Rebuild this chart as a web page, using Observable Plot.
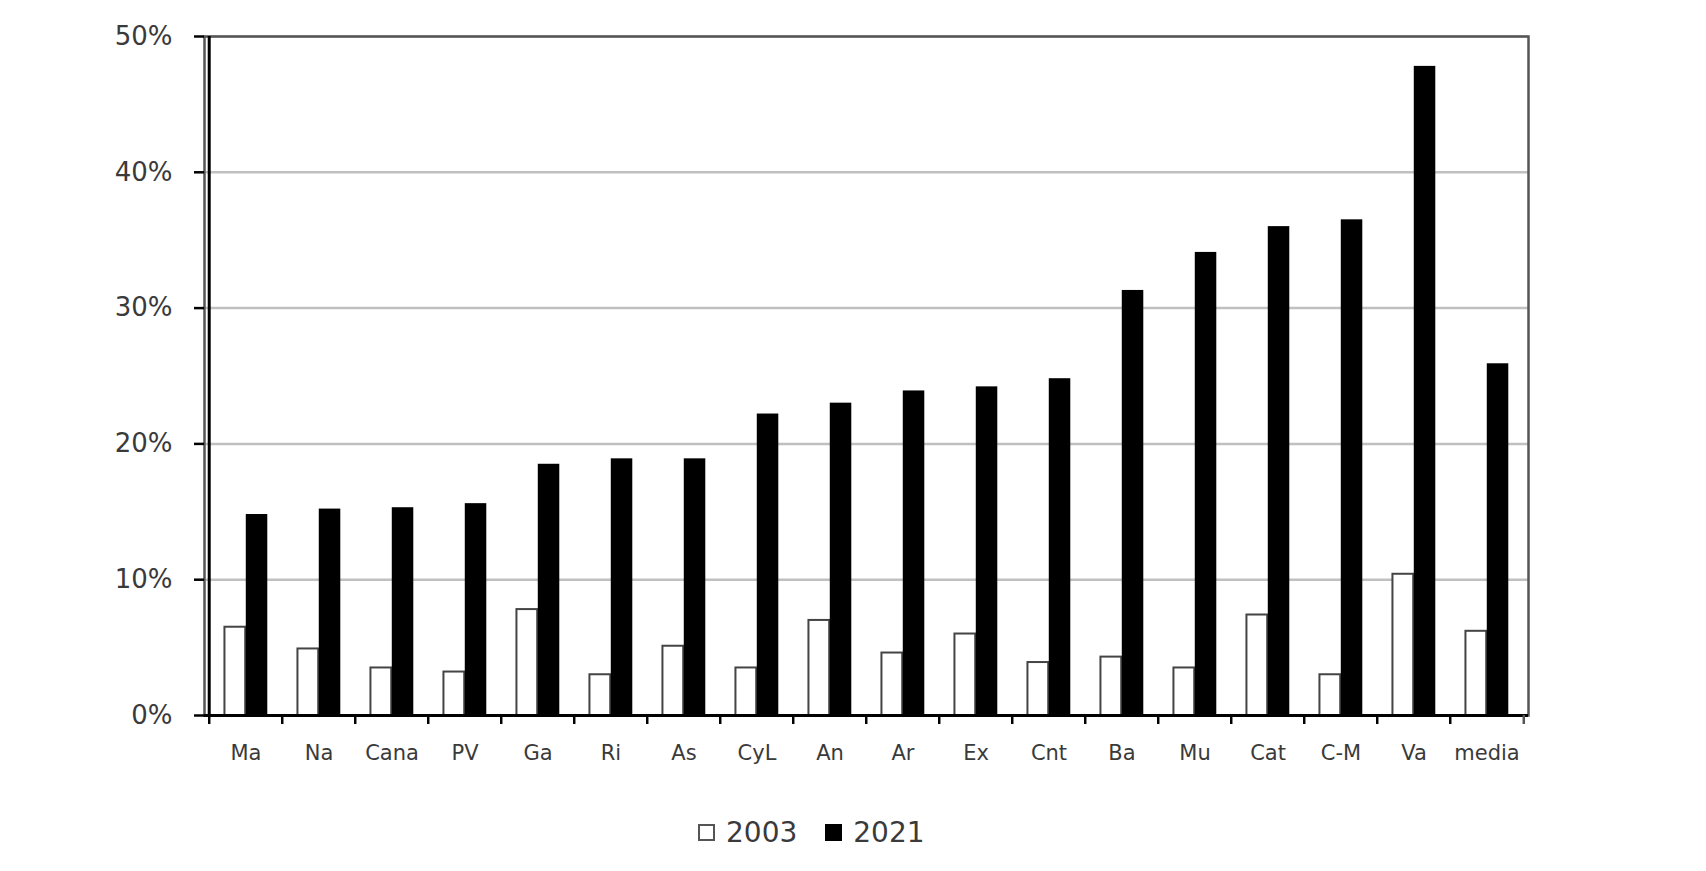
<!DOCTYPE html>
<html>
<head>
<meta charset="utf-8">
<script src="https://cdn.jsdelivr.net/npm/d3@7"></script>
<script src="https://cdn.jsdelivr.net/npm/@observablehq/plot@0.6"></script>
<style>
  html, body { margin: 0; padding: 0; background: #fff; }
  #chart { width: 1706px; }
  .legend { display: flex; align-items: center; font-family: "DejaVu Sans", sans-serif; font-size: 28px; color: #3a3a3a; padding-left: 698px; padding-top: 26px; }
  .legend .sw { width: 17px; height: 17px; display: inline-block; margin-right: 11px; }
  .legend .item { display: flex; align-items: center; margin-right: 28px; }
</style>
</head>
<body>
<div id="chart"></div>
<script>
const regions = ["Ma","Na","Cana","PV","Ga","Ri","As","CyL","An","Ar","Ex","Cnt","Ba","Mu","Cat","C-M","Va","media"];
const v2003 = [6.5, 4.9, 3.5, 3.2, 7.8, 3.0, 5.1, 3.5, 7.0, 4.6, 6.0, 3.9, 4.3, 3.5, 7.4, 3.0, 10.4, 6.2];
const v2021 = [14.8, 15.2, 15.3, 15.6, 18.5, 18.9, 18.9, 22.2, 23.0, 23.9, 24.2, 24.8, 31.3, 34.1, 36.0, 36.5, 47.8, 25.9];
const yTicks = [0, 10, 20, 30, 40, 50];
const seriesNames = ["2003", "2021"];

const data = regions.map((r, i) => ({region: r, a: v2003[i], b: v2021[i]}));

const W = 1706, H = 790;
const mL = 204, mR = 178, mT = 36, mB = 75;
const bw = (W - mL - mR) / regions.length;
const txt = "#3a3a3a";

const plot = Plot.plot({
  width: W, height: H,
  marginLeft: mL, marginRight: mR, marginTop: mT, marginBottom: mB,
  style: {fontFamily: "DejaVu Sans, sans-serif", background: "#fff", color: txt},
  x: {domain: regions, padding: 0, axis: null},
  y: {domain: [0, 50], axis: null},
  marks: [
    Plot.gridY(yTicks, {stroke: "#c0c0c0", strokeOpacity: 1, strokeWidth: 2.5}),
    Plot.frame({stroke: "#555", strokeWidth: 2.5}),
    Plot.barY(data, {x: "region", y: "a", fill: "white", stroke: "#444", strokeWidth: 2,
      insetLeft: 0.21 * bw, insetRight: 0.5 * bw}),
    Plot.barY(data, {x: "region", y: "b", fill: "black",
      insetLeft: 0.5 * bw, insetRight: 0.2 * bw}),
    Plot.ruleY([0], {stroke: "black", strokeWidth: 3}),
    Plot.ruleX([regions[0]], {dx: -bw / 2, stroke: "black", strokeWidth: 3}),
    Plot.ruleX(regions, {y1: 0, y2: 0, dx: -bw / 2, insetBottom: -9, stroke: "black", strokeWidth: 2.5}),
    Plot.ruleX([regions[regions.length - 1]], {y1: 0, y2: 0, dx: bw / 2, insetBottom: -9, stroke: "#555", strokeWidth: 2.5}),
    Plot.axisY(yTicks, {tickFormat: d => d + "%", tickSize: 10, tickPadding: 22, stroke: "black", strokeWidth: 2.5, fontSize: 26, fill: txt, label: null}),
    Plot.axisX(regions, {tickSize: 0, tickPadding: 30, fontSize: 21, fill: txt, label: null})
  ]
});
document.getElementById("chart").appendChild(plot);

const legend = document.createElement("div");
legend.className = "legend";
const styles = [
  "background:#fff;border:2px solid #555;box-sizing:border-box;",
  "background:#000;"
];
seriesNames.forEach((name, i) => {
  const item = document.createElement("span");
  item.className = "item";
  const sw = document.createElement("span");
  sw.className = "sw";
  sw.style.cssText = styles[i];
  item.appendChild(sw);
  item.appendChild(document.createTextNode(name));
  legend.appendChild(item);
});
document.getElementById("chart").appendChild(legend);
</script>
</body>
</html>
